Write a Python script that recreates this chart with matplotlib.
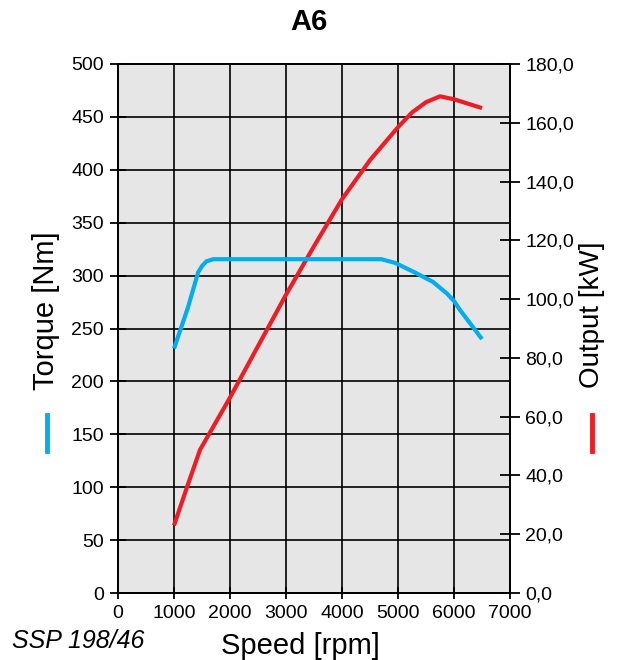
import matplotlib
matplotlib.use("Agg")
import matplotlib.pyplot as plt
from matplotlib.lines import Line2D

plt.rcParams["font.family"] = ["Liberation Sans", "DejaVu Sans"]

# engine curves
torque_rpm = [1000, 1250, 1430, 1500, 1580, 1700, 4700, 4950, 5300, 5625, 5875, 6000, 6100, 6500]
torque_nm = [231, 270, 303, 309, 313.5, 315.5, 315.5, 312, 303, 294, 283, 276, 268, 240]
power_rpm = [1000, 1250, 1464, 2000, 2500, 3000, 3500, 4000, 4500, 5000, 5250, 5500, 5750, 6000, 6500]
power_kw = [23, 37, 48.7, 66.5, 84, 101.5, 118, 134, 147.3, 158.5, 163.5, 167, 169, 168, 165]

speed_ticks = [0, 1000, 2000, 3000, 4000, 5000, 6000, 7000]
torque_ticks = [0, 50, 100, 150, 200, 250, 300, 350, 400, 450, 500]
power_ticks = [0, 20, 40, 60, 80, 100, 120, 140, 160, 180]

BLUE = "#00aeef"
RED = "#ee1c25"

fig = plt.figure(figsize=(6.17, 6.6), dpi=100)
ax = fig.add_axes([118 / 617, 1 - 593 / 660, 392 / 617, 529 / 660])
ax2 = ax.twinx()

ax.set_facecolor("#e6e6e6")
ax.set_xlim(0, 7000)
ax.set_ylim(0, 500)
ax2.set_ylim(0, 180)
ax.set_xticks(speed_ticks)
ax.set_yticks(torque_ticks)
ax2.set_yticks(power_ticks)
ax2.set_yticklabels([f"{v:.1f}".replace(".", ",") for v in power_ticks])

# grid: vertical per 1000 rpm, horizontal per 50 Nm
for x in speed_ticks[1:-1]:
    ax.axvline(x, color="black", lw=1.2, zorder=1)
for y in torque_ticks[1:-1]:
    ax.axhline(y, color="black", lw=1.2, zorder=1)

ax2.plot(power_rpm, power_kw, color=RED, lw=3, zorder=3,
         solid_capstyle="butt", solid_joinstyle="round")
# torque drawn on the top axes (in torque coordinates) so it sits over the red curve
ax2.plot(torque_rpm, torque_nm, color=BLUE, lw=3, zorder=4,
         transform=ax.transData, solid_capstyle="butt", solid_joinstyle="round")

for a in (ax, ax2):
    for sp in a.spines.values():
        sp.set_linewidth(1.3)
        sp.set_color("black")
ax.tick_params(axis="both", direction="inout", length=12, width=1.3,
               labelsize=14, colors="black", pad=4)
ax.tick_params(axis="x", length=8, pad=5)
ax2.tick_params(axis="y", direction="inout", length=14, width=1.3,
                labelsize=14, pad=4)

fig.text(309 / 617, 1 - 22 / 660, "A6", fontsize=21, fontweight="bold",
         ha="center", va="center")
fig.text(300 / 617, 1 - 646 / 660, "Speed [rpm]", fontsize=21,
         ha="center", va="center")
fig.text(12 / 617, 1 - 641 / 660, "SSP 198/46", fontsize=18,
         style="italic", ha="left", va="center")
fig.text(46 / 617, 1 - 311 / 660, "Torque [Nm]", fontsize=21,
         rotation=90, ha="center", va="center")
fig.text(592 / 617, 1 - 315 / 660, "Output [kW]", fontsize=20,
         rotation=90, ha="center", va="center")

# colour keys under the axis titles
fig.add_artist(Line2D([47 / 617, 47 / 617], [1 - 415 / 660, 1 - 451 / 660],
                      color=BLUE, lw=3.5))
fig.add_artist(Line2D([592 / 617, 592 / 617], [1 - 415 / 660, 1 - 451 / 660],
                      color=RED, lw=3.5))

fig.savefig("out.png", dpi=100, facecolor="white")
